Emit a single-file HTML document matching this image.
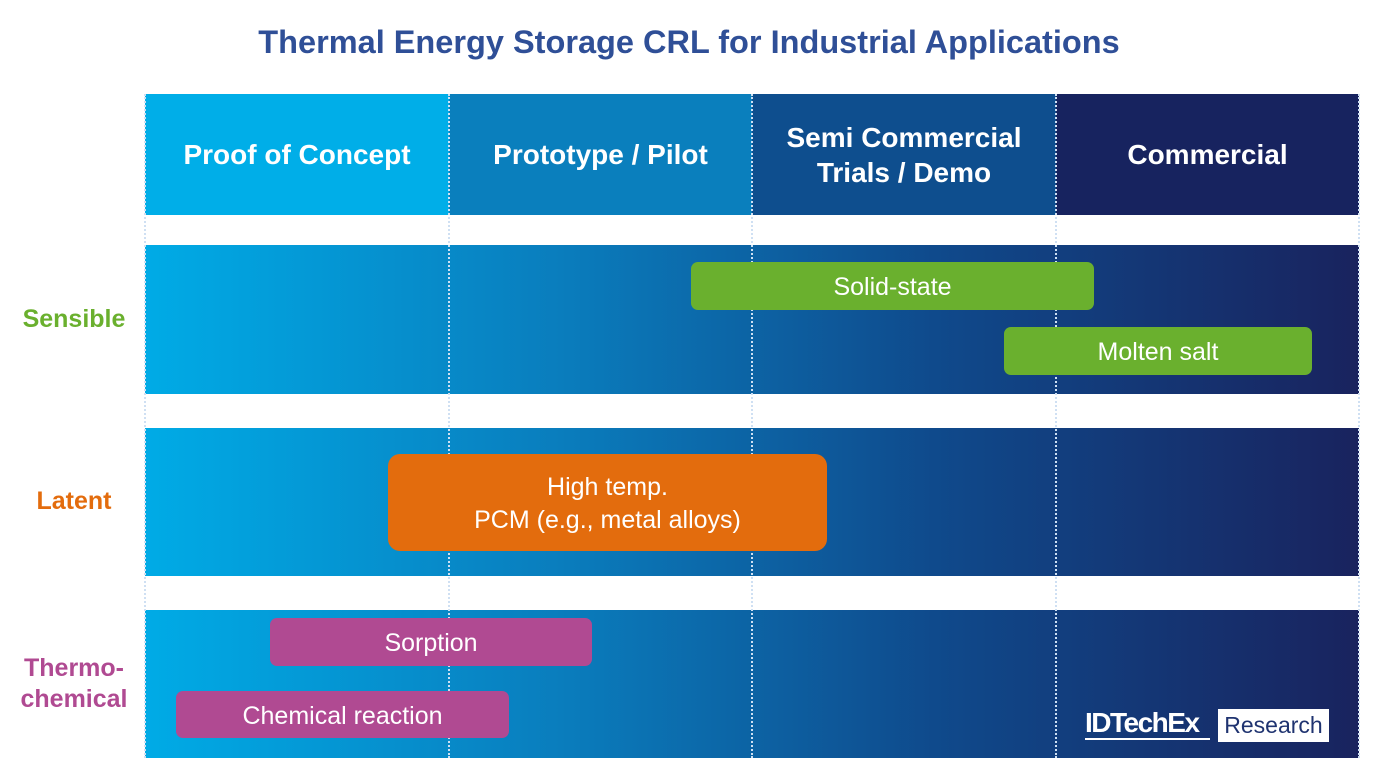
<!DOCTYPE html>
<html><head><style>
body{margin:0;width:1378px;height:776px;background:#fff;font-family:"Liberation Sans",sans-serif;position:relative;overflow:hidden}
div{position:absolute;box-sizing:border-box}
.t{left:0;width:1378px;top:24px;text-align:center;font-size:32.5px;font-weight:bold;color:#2f4f97}
.h{top:94px;height:121px;color:#fff;font-weight:bold;font-size:28px;display:flex;align-items:center;justify-content:center;text-align:center;line-height:35px}
.row{left:145px;width:1214px;background:linear-gradient(90deg,#00abe6 0%,#0a7cbc 35%,#0f4a8c 65%,#19235e 100%)}
.v{top:94px;height:664px;width:0;border-left:2px dotted #cfe0f3}
.b{color:#fff;font-size:25px;display:flex;align-items:center;justify-content:center;text-align:center;border-radius:7px;line-height:33px;padding-top:3px}
.g{background:#6ab02e}.o{background:#e36c0d;border-radius:12px}.p{background:#b04a92}
.l{font-weight:bold;font-size:25px;text-align:center;width:140px;left:4px;line-height:31px}
</style></head><body>
<div class="t">Thermal Energy Storage CRL for Industrial Applications</div>
<div class="h" style="left:145px;width:304px;background:#00aee8">Proof of Concept</div>
<div class="h" style="left:449px;width:303px;background:#0a7fbd">Prototype / Pilot</div>
<div class="h" style="left:752px;width:304px;background:#0e4e8e">Semi Commercial<br>Trials / Demo</div>
<div class="h" style="left:1056px;width:303px;background:#17235f">Commercial</div>
<div class="row" style="top:245px;height:149px"></div>
<div class="row" style="top:428px;height:148px"></div>
<div class="row" style="top:610px;height:148px"></div>
<div class="v" style="left:144px"></div>
<div class="v" style="left:448px"></div>
<div class="v" style="left:751px"></div>
<div class="v" style="left:1055px"></div>
<div class="v" style="left:1358px"></div>
<div class="b g" style="left:691px;top:262px;width:403px;height:48px">Solid-state</div>
<div class="b g" style="left:1004px;top:327px;width:308px;height:48px">Molten salt</div>
<div class="b o" style="left:388px;top:454px;width:439px;height:97px">High temp.<br>PCM (e.g., metal alloys)</div>
<div class="b p" style="left:270px;top:618px;width:322px;height:48px">Sorption</div>
<div class="b p" style="left:176px;top:691px;width:333px;height:47px">Chemical reaction</div>
<div class="l" style="top:304px;color:#6ab02e">Sensible</div>
<div class="l" style="top:486px;color:#e36c0d">Latent</div>
<div class="l" style="top:653px;color:#b04a92">Thermo-<br>chemical</div>
<div style="left:1085px;top:708px;width:125px;color:#fff;font-size:28px;font-weight:bold;letter-spacing:-1.5px;border-bottom:2px solid #fff;line-height:30px;white-space:nowrap">IDTechEx</div>
<div style="left:1218px;top:709px;width:111px;height:33px;background:#fff;color:#1f3370;font-size:23px;display:flex;align-items:center;justify-content:center">Research</div>
</body></html>
